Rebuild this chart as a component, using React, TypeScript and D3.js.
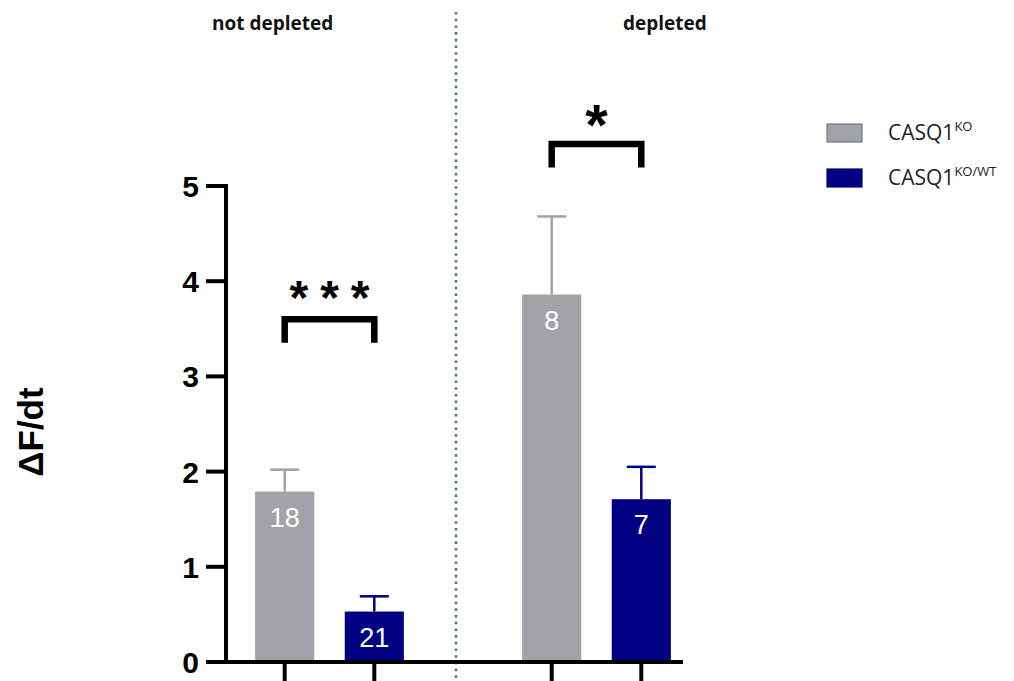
import React from 'react';
import * as d3 from 'd3';

/* ─── Data ─── */
const groups = ['not depleted', 'depleted'];
const series = ['CASQ1KO', 'CASQ1KO/WT'];
const koMeans = [1.79, 3.86];
const koErr = [0.23, 0.82];
const koN = [18, 8];
const wtMeans = [0.53, 1.71];
const wtErr = [0.16, 0.34];
const wtN = [21, 7];
const yTicks = [0, 1, 2, 3, 4, 5];
const sigLabels = ['***', '*'];
const sigLevels = [3.6, 5.44];

const COLORS = { ko: '#a3a3a7', wt: '#000080', axis: '#000', divider: '#5b7196' };
const W = 1014;
const H = 681;
const LABEL_FONT = "'Open Sans', Lato, sans-serif";

export default function App() {
  const y = d3.scaleLinear().domain([0, 5]).range([662, 186]);
  const xGroup = d3.scaleBand<string>().domain(groups).range([196, 730]);
  const xInner = d3.scaleBand<string>().domain(series)
    .range([0, xGroup.bandwidth()]).paddingInner(0.34).paddingOuter(0.66);
  const bw = xInner.bandwidth();
  const axisX = 226;
  const axisEnd = 683;

  const bars = groups.flatMap((g, i) => [
    { g, s: series[0], mean: koMeans[i], err: koErr[i], n: koN[i], color: COLORS.ko },
    { g, s: series[1], mean: wtMeans[i], err: wtErr[i], n: wtN[i], color: COLORS.wt },
  ]);
  const cx = (g: string, s: string) => (xGroup(g) as number) + (xInner(s) as number) + bw / 2;
  const dividerX = (xGroup(groups[1]) as number) - 7;

  return (
    <>
      <style>{'body{margin:0;background:#fff}'}</style>
      <svg width={W} height={H} style={{ display: 'block', fontFamily: "'Liberation Sans', Arial, sans-serif" }}>
        {/* divider */}
        <line x1={dividerX} x2={dividerX} y1={12} y2={H} stroke={COLORS.divider}
          strokeWidth={2.6} strokeDasharray="2.6 4.1" />

        {/* group headings */}
        {groups.map((g, i) => (
          <text key={g} x={i === 0 ? 212 : 623} y={30} fontFamily={LABEL_FONT}
            fontWeight={700} fontSize={19} fill="#111">{g}</text>
        ))}

        {/* bars */}
        {bars.map(b => {
          const x = cx(b.g, b.s);
          const top = y(b.mean);
          const cap = y(b.mean + b.err);
          return (
            <g key={b.g + b.s}>
              <line x1={x} x2={x} y1={top} y2={cap} stroke={b.color} strokeWidth={2.5} />
              <line x1={x - 14.5} x2={x + 14.5} y1={cap} y2={cap} stroke={b.color} strokeWidth={2.5} />
              <rect x={x - bw / 2} y={top} width={bw} height={y(0) - top} fill={b.color} />
              <text x={x} y={top + 35} textAnchor="middle" fill="#fff" fontSize={27}>{b.n}</text>
            </g>
          );
        })}

        {/* y axis */}
        <line x1={axisX} x2={axisX} y1={y(5) - 2} y2={y(0) + 2} stroke={COLORS.axis} strokeWidth={4} />
        {yTicks.map(t => (
          <g key={t}>
            <line x1={axisX - 20} x2={axisX} y1={y(t)} y2={y(t)} stroke={COLORS.axis} strokeWidth={4} />
            <text x={axisX - 27} y={y(t) + 11} textAnchor="end" fontWeight={700} fontSize={30}>{t}</text>
          </g>
        ))}

        {/* x axis */}
        <line x1={axisX - 20} x2={axisEnd} y1={y(0)} y2={y(0)} stroke={COLORS.axis} strokeWidth={4} />
        {bars.map(b => (
          <line key={'t' + b.g + b.s} x1={cx(b.g, b.s)} x2={cx(b.g, b.s)} y1={y(0)} y2={H}
            stroke={COLORS.axis} strokeWidth={4} />
        ))}

        {/* y label */}
        <text transform={`translate(43,${432}) rotate(-90)`} textAnchor="middle"
          fontWeight={700} fontSize={35}>ΔF/dt</text>

        {/* significance brackets */}
        {groups.map((g, i) => {
          const x1 = cx(g, series[0]);
          const x2 = cx(g, series[1]);
          const yy = y(sigLevels[i]);
          const ls = i === 0 ? 12 : 0;
          return (
            <g key={'sig' + g}>
              <path d={`M${x1},${yy + 23.5}V${yy}H${x2}V${yy + 23.5}`} fill="none"
                stroke="#000" strokeWidth={6.5} />
              <text x={(x1 + x2) / 2 + ls / 2} y={i === 0 ? yy - 5 : yy + 1} textAnchor="middle"
                fontWeight={700} fontSize={i === 0 ? 48 : 58} letterSpacing={ls}>
                {sigLabels[i]}
              </text>
            </g>
          );
        })}

        {/* legend */}
        {series.map((s, i) => (
          <g key={'lg' + s} transform={`translate(827,${124 + i * 45})`}>
            <rect x={0} y={0} width={35} height={18} fill={i === 0 ? COLORS.ko : COLORS.wt}
              stroke={i === 0 ? '#6a7896' : COLORS.wt} strokeWidth={1.2} />
            <text x={61} y={16} fontFamily={LABEL_FONT} fontSize={21} fill="#222">
              CASQ1<tspan dy={-9} fontSize={13}>{i === 0 ? 'KO' : 'KO/WT'}</tspan>
            </text>
          </g>
        ))}
      </svg>
    </>
  );
}
